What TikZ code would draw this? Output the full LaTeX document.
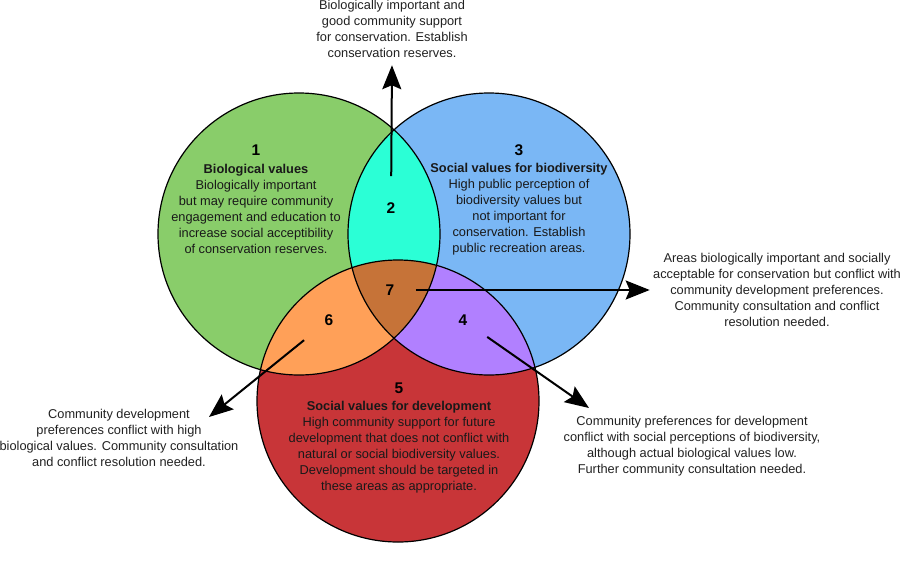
\documentclass[tikz,border=0pt]{standalone}
\usepackage{fontspec}
\setmainfont{Liberation Sans}
\usepackage{xcolor}
\usepackage{tikz}
\usetikzlibrary{arrows.meta,positioning}
\definecolor{VNGreen} {HTML}{89CD6A}
\definecolor{VNBlue}  {HTML}{7AB7F5}
\definecolor{VNRed}   {HTML}{C83538}
\definecolor{VNCyan}  {HTML}{2BFFD6}
\definecolor{VNOrange}{HTML}{FFA058}
\definecolor{VNPurple}{HTML}{B180FF}
\definecolor{VNBrown} {HTML}{C67338}
\definecolor{VNText}  {HTML}{222222}

\begin{document}
\begin{tikzpicture}[x=1pt,y=-1pt,
    ring/.style={draw=black,line width=1.2pt},
    num/.style={font=\fontsize{15.5}{18}\selectfont\bfseries,text=black},
    desc/.style={font=\fontsize{12.8}{16}\selectfont,align=center,text=black!90},
    note/.style={font=\fontsize{12.8}{16}\selectfont,align=center,text=VNText},
    arr/.style={-{Stealth[length=24pt,width=19pt,inset=4pt]},line width=2pt,black}
  ]
    \path[use as bounding box,fill=white] (0,0) rectangle (900,560);
    \def\rr{141pt}
    \coordinate (G) at (299,234);
    \coordinate (B) at (489,234);
    \coordinate (R) at (398,401);
    \fill[VNGreen] (G) circle[radius=\rr];
    \fill[VNBlue]  (B) circle[radius=\rr];
    \fill[VNRed]   (R) circle[radius=\rr];
    \begin{scope}
      \clip (B) circle[radius=\rr];
      \fill[VNPurple] (R) circle[radius=\rr];
    \end{scope}
    \begin{scope}
      \clip (G) circle[radius=\rr];
      \fill[VNCyan]   (B) circle[radius=\rr];
      \fill[VNOrange] (R) circle[radius=\rr];
      \clip (B) circle[radius=\rr];
      \fill[VNBrown]  (R) circle[radius=\rr];
    \end{scope}
    \foreach \c in {G,B,R}
      \draw[ring] (\c) circle[radius=\rr];

    \node[num](n1) at (256,150) {1};
    \node[desc](d1) at (256,209) {\textbf{Biological values}\\Biologically important\\but may require community\\engagement and education to\\increase social acceptibility\\of conservation reserves.};
    \node[num](n2) at (391,208) {2};
    \node[num](n3) at (519,150) {3};
    \node[desc](d3) at (519,209) {\textbf{Social values for biodiversity}\\High public perception of\\biodiversity values but\\not important for\\conservation. Establish\\public recreation areas.};
    \node[num](n4) at (463,320) {4};
    \node[num](n5) at (399,388) {5};
    \node[desc](d5) at (399,447) {\textbf{Social values for development}\\High community support for future\\development that does not conflict with\\natural or social biodiversity values.\\Development should be targeted in\\these areas as appropriate.};
    \node[num](n6) at (329,320) {6};
    \node[num](n7) at (390,290) {7};

    \node[note](t2) at (392,29)  {Biologically important and\\good community support\\for conservation. Establish\\conservation reserves.};
    \node[note](t7) at (777,290) {Areas biologically important and socially\\acceptable for conservation but conflict with\\community development preferences.\\Community consultation and conflict\\resolution needed.};
    \node[note](t6) at (119,438) {Community development\\preferences conflict with high\\biological values. Community consultation\\and conflict resolution needed.};
    \node[note](t4) at (692,446) {Community preferences for development\\conflict with social perceptions of biodiversity,\\although actual biological values low.\\Further community consultation needed.};
    \coordinate (tip4) at (589,408);
    \coordinate (tip6) at (209,417);

    \draw[arr,shorten <=23pt,shorten >=4pt](n2)--(t2.south);
    \draw[arr,shorten <=18pt](n7)--(t7);
    \draw[arr,shorten <=20pt](n4)--(tip4);
    \draw[arr,shorten <=22pt](n6)--(tip6);
  \end{tikzpicture}
\end{document}
